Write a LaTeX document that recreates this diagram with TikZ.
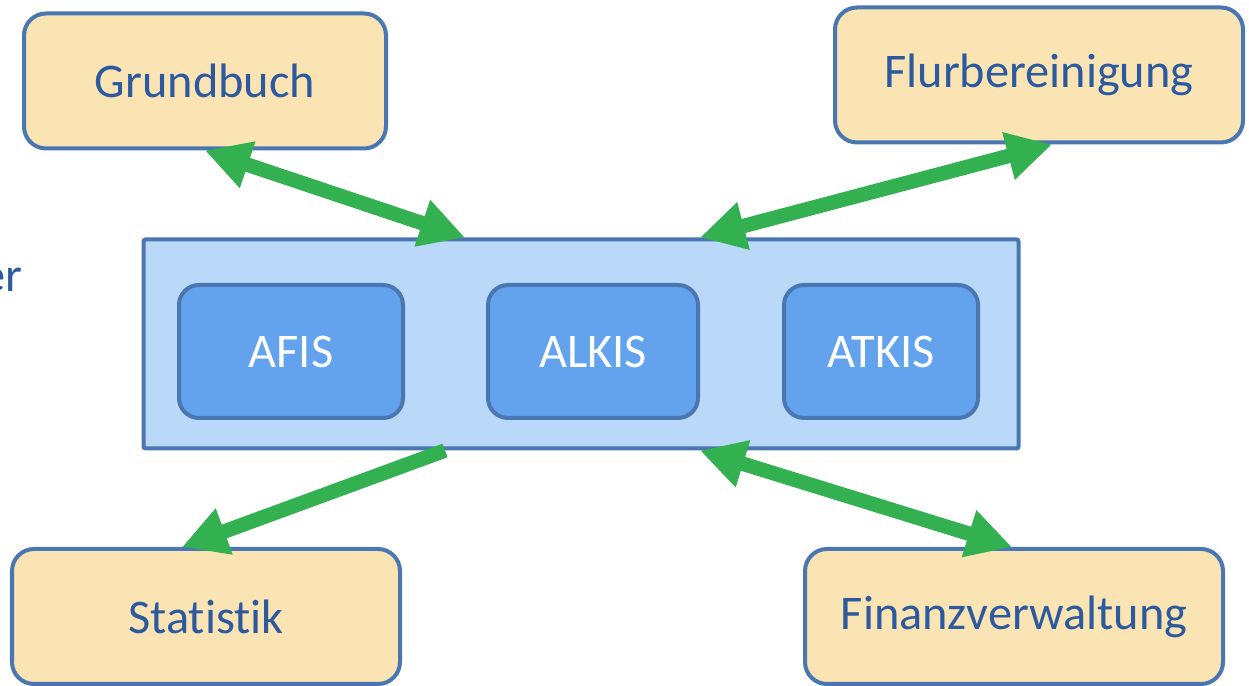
\documentclass[tikz,border=0pt]{standalone}
\usepackage{fontspec}
\setmainfont{Carlito}[Ligatures=NoCommon]
\usetikzlibrary{positioning,calc,arrows.meta}

\definecolor{textBlue}{RGB}{45,90,158}
\definecolor{lineBlue}{RGB}{74,118,178}
\definecolor{boxYellow}{RGB}{250,228,180}
\definecolor{sysBlue}{RGB}{186,216,248}
\definecolor{modBlue}{RGB}{99,163,238}
\definecolor{linkGreen}{RGB}{51,176,80}

\begin{document}
\begin{tikzpicture}[every text node part/.style={align=center}]
\tikzset{myFont/.style={font=\fontsize{27.5}{32}\selectfont}}
\tikzset{extBox/.style={draw=lineBlue,line width=0.08cm,fill=boxYellow,rounded corners=0.44cm,minimum height=2.7cm,myFont,text=textBlue}}
\tikzset{sysBox/.style={draw=lineBlue,line width=0.08cm,fill=sysBlue,rounded corners=0.04cm,minimum width=17.5cm,minimum height=4.18cm}}
\tikzset{modBox/.style={draw=lineBlue,line width=0.08cm,fill=modBlue,rounded corners=0.4cm,minimum height=2.66cm,myFont,text=white}}
\tikzset{link/.style={draw=linkGreen,line width=0.29cm,arrows={-Triangle[length=0.9cm,width=0.92cm]}}}
\tikzset{biLink/.style={draw=linkGreen,line width=0.29cm,arrows={Triangle[length=0.9cm,width=0.92cm]-Triangle[length=0.9cm,width=0.92cm]}}}

\useasboundingbox (0,0) rectangle (24.98,13.72);

% surrounding systems
\node[extBox,minimum width=7.24cm] (grund) at (4.10,12.10) {Grundbuch};
\node[extBox,minimum width=8.16cm] (flur) at (20.78,12.22) {Flurbereinigung};
\node[extBox,minimum width=7.76cm] (stat) at (4.12,1.39) {Statistik};
\node[extBox,minimum width=8.36cm] (fin) at (20.28,1.39) {Finanzverwaltung};

% core system
\node[sysBox] (sys) at (11.62,6.84) {};
\node[modBox,minimum width=4.48cm] (afis) at (5.82,6.69) {AFIS};
\node[modBox,minimum width=4.2cm] (alkis) at (11.86,6.69) {ALKIS};
\node[modBox,minimum width=3.88cm] (atkis) at (17.62,6.69) {ATKIS};

\node[myFont,text=textBlue,anchor=base east] (er) at (0.58,7.88) {er};

% data exchange
\path[biLink] (grund.south) -- ([xshift=-2.32cm]sys.north);
\path[biLink] ([xshift=0.26cm]flur.south) -- ([xshift=2.38cm]sys.north);
\path[link] ([xshift=-2.72cm]sys.south) -- ([xshift=-0.48cm]stat.north);
\path[biLink] ([xshift=2.38cm]sys.south) -- ([xshift=-0.04cm]fin.north);

\end{tikzpicture}
\end{document}
